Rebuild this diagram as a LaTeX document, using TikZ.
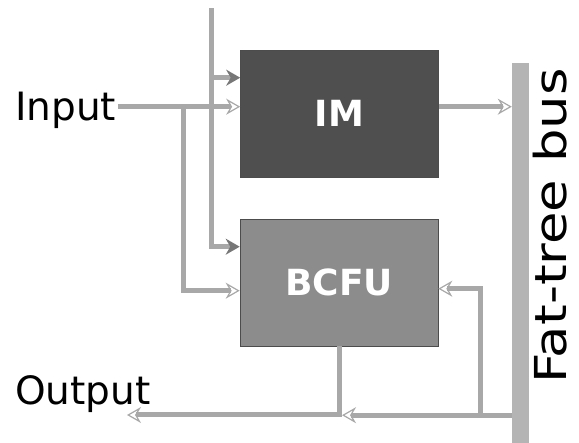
\documentclass[tikz,border=0pt]{standalone}
\usepackage{fontspec}
\setmainfont{DejaVu Sans}
\usepackage{xcolor}
\usetikzlibrary{positioning,arrows.meta,calc}
\definecolor{imgray}{HTML}{4F4F4F}
\definecolor{fugray}{HTML}{8C8C8C}
\definecolor{busgray}{HTML}{B4B4B4}
\definecolor{wiregray}{HTML}{A8A8A8}
\definecolor{tipdark}{HTML}{777777}

\begin{document}
\begin{tikzpicture}[
  x=1pt, y=-1pt,
  unit/.style={
    rectangle, draw=black!70, line width=0.6pt,
    minimum width=198pt, minimum height=127pt, inner sep=0pt,
    text=white, font=\fontsize{36}{36}\selectfont\bfseries
  },
  lbl/.style={font=\fontsize{39}{39}\selectfont, inner sep=2pt},
  wire/.style={line width=5pt, draw=wiregray},
  lighttip/.style={-{Stealth[open, length=14pt, width=16pt, line width=1.2pt, color=wiregray]}},
  darktip/.style={-{Stealth[length=14pt, width=16pt, color=tipdark]}},
]
\useasboundingbox (0,0) rectangle (579,443);

% Boxes and bus
\node[unit, fill=imgray] (im)   at (339.5,113.5) {\raisebox{-7pt}{IM}};
\node[unit, fill=fugray] (bcfu) at (339,282.5)   {\raisebox{-7pt}{BCFU}};
\node[rectangle, fill=busgray, minimum width=17pt, minimum height=380pt, inner sep=0pt] (bus) at (520.5,253) {};

% Labels
\node[lbl, anchor=base west] (input)  at (13,121) {Input};
\node[lbl, anchor=base west] (output) at (13,405) {Output};
\node[font=\fontsize{44}{44}\selectfont, rotate=90, inner sep=1pt] (buslbl) at (550,226) {\scalebox{1.2}[1]{Fat-tree bus}};

% Ports
\coordinate (imA)  at ($(im.north west)+(0,28)$);
\coordinate (imB)  at ($(im.north west)+(0,57)$);
\coordinate (imO)  at ($(im.north east)+(0,57)$);
\coordinate (bcA)  at ($(bcfu.north west)+(0,28)$);
\coordinate (bcB)  at ($(bcfu.north west)+(0,72)$);
\coordinate (bcC)  at ($(bcfu.north east)+(0,70)$);
\coordinate (ret)  at ($(bus.south west)+(0,-28)$);
\coordinate (loop) at ($(bcC)+(42,0)$);
\coordinate (cfg)  at (211,8);
\coordinate (split) at (183,107);
\coordinate (outEnd) at (127,415);

% Left side: control line and input
\draw[wire, darktip] (cfg) |- (bcA);
\draw[wire, darktip] (cfg |- imA) -- (imA);
\draw[wire, lighttip] (input.east |- imB) -- (imB);
\draw[wire, lighttip] (split) |- (bcB);

% IM ---> bus
\draw[wire, lighttip] (imO) -- (imO -| bus.west);

% Bus ---> BCFU, bus ---> output
\draw[wire, lighttip] (ret) -| (loop) -- (bcC);
\draw[wire, lighttip, shorten >=3pt] (ret) -- (bcfu.south |- ret);
\draw[wire, lighttip] (bcfu.south) |- (outEnd);
\end{tikzpicture}
\end{document}
